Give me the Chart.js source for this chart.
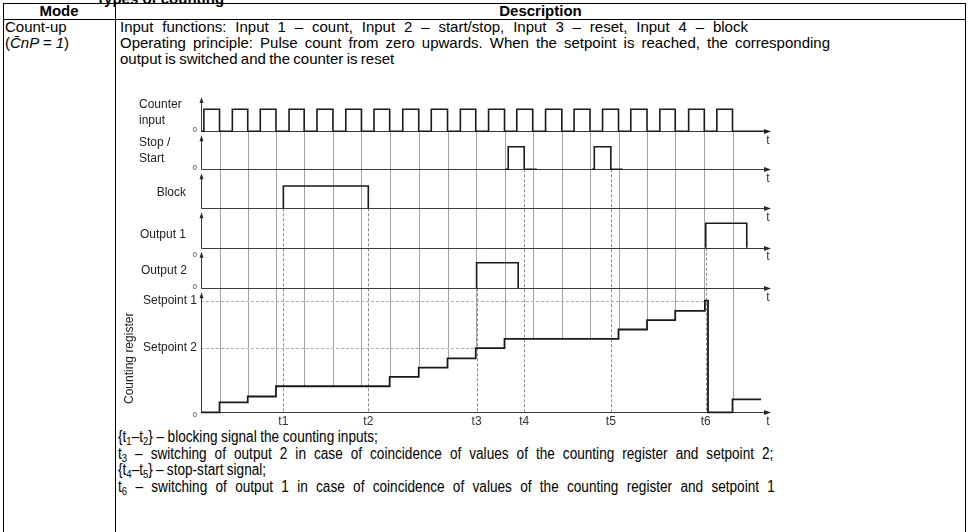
<!DOCTYPE html>
<html><head><meta charset="utf-8">
<script src="https://cdn.jsdelivr.net/npm/chart.js@4/dist/chart.umd.min.js"></script>
<style>
html,body{margin:0;padding:0;background:#fff;}
#page{position:relative;width:969px;height:532px;overflow:hidden;font-family:'Liberation Sans',Arial,sans-serif;color:#000;}
.ln{position:absolute;background:#000;}
.tx{position:absolute;white-space:nowrap;font-size:15px;line-height:16px;}
.b{font-weight:bold;}
.nar{font-size:16px;transform-origin:0 50%;transform:scaleX(0.85);}
sub{font-size:70%;vertical-align:-3px;line-height:0;}
#chartBox{position:absolute;left:120px;top:85px;width:680px;height:350px;}
</style></head>
<body><div id="page">
<div class="tx b" style="left:96px;top:-9px">Types of counting</div>
<div class="ln" style="left:3px;top:3px;width:963px;height:1px"></div>
<div class="ln" style="left:3px;top:19px;width:963px;height:1px"></div>
<div class="ln" style="left:3px;top:3px;width:1px;height:529px"></div>
<div class="ln" style="left:115px;top:3px;width:1px;height:529px"></div>
<div class="ln" style="left:965px;top:3px;width:1px;height:529px"></div>
<div class="tx b" style="left:3px;width:112px;text-align:center;top:3px">Mode</div>
<div class="tx b" style="left:116px;width:849px;text-align:center;top:3px">Description</div>
<div class="tx" style="left:5px;top:19px">Count-up</div>
<div class="tx" style="left:5px;top:35px">(<i>C̄nP = 1</i>)</div>
<div class="tx fit" data-end="748" style="left:120px;top:19px">Input functions: Input 1 – count, Input 2 – start/stop, Input 3 – reset, Input 4 – block</div>
<div class="tx fit" data-end="830" style="left:120px;top:35px">Operating principle: Pulse count from zero upwards. When the setpoint is reached, the corresponding</div>
<div class="tx fit" data-end="394" style="left:120px;top:51px">output is switched and the counter is reset</div>
<div class="tx nar fit" data-end="378" data-scale="0.85" style="left:118px;top:429px">{t<sub>1</sub>–t<sub>2</sub>} – blocking signal the counting inputs;</div>
<div class="tx nar fit" data-end="773" data-scale="0.85" style="left:118px;top:446px">t<sub>3</sub> – switching of output 2 in case of coincidence of values of the counting register and setpoint 2;</div>
<div class="tx nar fit" data-end="266" data-scale="0.85" style="left:118px;top:462px">{t<sub>4</sub>–t<sub>5</sub>} – stop-start signal;</div>
<div class="tx nar fit" data-end="775" data-scale="0.85" style="left:118px;top:479px">t<sub>6</sub> – switching of output 1 in case of coincidence of values of the counting register and setpoint 1</div>
<div id="chartBox"><canvas id="c" width="680" height="350"></canvas></div>
</div>
<script>
// fit the text lines to the line ends seen in the reference (layout only)
document.querySelectorAll('.fit').forEach(el => {
  const s = parseFloat(el.dataset.scale || '1');
  const left = parseFloat(el.style.left);
  const need = (parseFloat(el.dataset.end) - left) / s;
  const spaces = el.textContent.split(' ').length - 1;
  const ws = (need - el.offsetWidth) / spaces;
  el.style.wordSpacing = ws.toFixed(2) + 'px';
});

// ---- data ----
const T_MAX = 20;
const LANE_NAMES = ['Counter input', 'Stop / Start', 'Block', 'Output 1', 'Output 2', 'Counting register'];
const COUNTER_RISE = [0.10, 1.10, 2.08, 3.09, 4.07, 5.08, 6.07, 7.08, 8.08, 9.10, 10.09, 11.08, 12.09, 13.09, 14.09, 15.08, 16.10, 17.11, 18.10];
const COUNTER_FALL = [0.65, 1.64, 2.63, 3.62, 4.63, 5.63, 6.62, 7.64, 8.65, 9.64, 10.65, 11.64, 12.66, 13.65, 14.65, 15.65, 16.64, 17.66, 18.65];
const STOP_T = [10.67, 10.78, 11.34, 11.78, 12.50, 13.71, 13.80, 14.38, 14.79];
const STOP_V = [0, 1, 0, 0, null, 0, 1, 0, 0];
const BLOCK_ON = [2.89], BLOCK_OFF = [5.87];
const OUT1_ON = [17.71], OUT1_OFF = [19.15];
const OUT2_ON = [9.67], OUT2_OFF = [11.13];
const REG_T = [0, 0.65, 1.64, 2.63, 6.62, 7.64, 8.65, 9.64, 10.65, 14.65, 15.65, 16.64, 17.68, 17.79, 18.65, 19.65];
const REG_V = [0, 1.07, 1.7, 2.8, 3.8, 4.8, 5.8, 6.9, 7.9, 8.9, 9.9, 10.9, 12, 0, 1.4, 1.4];
const SETPOINT_LABELS = ['Setpoint 1', 'Setpoint 2'];
const SETPOINT_VALUES = [12, 6.9];
const SETPOINT_UNTIL = ['t6', 't3'];
const EVENT_LABELS = ['t1', 't2', 't3', 't4', 't5', 't6'];
const EVENT_TIMES = [2.89, 5.87, 9.67, 11.34, 14.38, 17.71];
const EVENT_FROM = ['Block', 'Block', 'Output 2', 'Stop / Start', 'Stop / Start', 'Output 1'];
const AXIS_END_LABEL = 't';

// ---- layout / style ----
const laneIds = ['yCnt', 'yStop', 'yBlock', 'yOut1', 'yOut2', 'yReg'];
const laneMax = [1.74, 1.68, 1.75, 1.61, 1.59, 13.33];
const laneWeight = [38.3, 38, 39, 39.4, 40.6, 124];
const TRACE = '#1a1a1a';

function pulses(on, off) {
  const pts = [{x: 0, y: 0}];
  on.forEach((t, i) => { pts.push({x: t, y: 1}); pts.push({x: off[i], y: 0}); });
  return pts;
}
function edges(on, off) {
  const pts = [];
  on.forEach((t, i) => { pts.push({x: t, y: 0}); pts.push({x: t, y: 1}); pts.push({x: off[i], y: 0}); });
  return pts;
}
const counterPts = pulses(COUNTER_RISE, COUNTER_FALL);
counterPts.push({x: 19.9, y: 0});
const stopPts = STOP_T.map((t, i) => ({x: t, y: STOP_V[i]}));
const regPts = REG_T.map((t, i) => ({x: t, y: REG_V[i]}));
function regAt(t) {
  let v = REG_V[0];
  REG_T.forEach((x, i) => { if (x <= t + 1e-6) v = REG_V[i]; });
  return v;
}

const ds = (data, axis, w) => ({data, yAxisID: axis, xAxisID: 'x', stepped: true, borderColor: TRACE,
  borderWidth: w || 1.6, pointRadius: 0, fill: false, clip: false, spanGaps: false, tension: 0});

const scales = {x: {type: 'linear', min: 0, max: T_MAX, display: false}};
laneIds.forEach((id, i) => {
  scales[id] = {type: 'linear', position: 'right', stack: 'lanes', stackWeight: laneWeight[i],
    min: 0, max: laneMax[i], display: false};
});

function arrowRight(c, x, y) { c.beginPath(); c.moveTo(x, y); c.lineTo(x - 7, y - 2.5); c.lineTo(x - 7, y + 2.5); c.closePath(); c.fill(); }
function arrowUp(c, x, y) { c.beginPath(); c.moveTo(x, y); c.lineTo(x - 2, y + 6); c.lineTo(x + 2, y + 6); c.closePath(); c.fill(); }

const diagram = {
  id: 'diagram',
  beforeDatasetsDraw(chart) {
    const c = chart.ctx, xs = chart.scales.x;
    const X = t => xs.getPixelForValue(t);
    const Y = (i, v) => chart.scales[laneIds[i]].getPixelForValue(v);
    const snap = v => Math.round(v) + 0.5;
    c.save();
    c.strokeStyle = '#a3a3a3'; c.lineWidth = 1;
    COUNTER_FALL.forEach(t => {
      const x = snap(X(t));
      c.beginPath(); c.moveTo(x, Y(0, 0)); c.lineTo(x, Y(5, regAt(t))); c.stroke();
    });
    c.setLineDash([3, 2]); c.strokeStyle = '#8c8c8c';
    EVENT_TIMES.forEach((t, i) => {
      const lane = LANE_NAMES.indexOf(EVENT_FROM[i]);
      const x = snap(X(t));
      c.beginPath(); c.moveTo(x, Y(lane, 0)); c.lineTo(x, Y(5, 0)); c.stroke();
    });
    c.strokeStyle = '#b0b0b0';
    SETPOINT_VALUES.forEach((v, i) => {
      const y = snap(Y(5, v));
      const tEnd = EVENT_TIMES[EVENT_LABELS.indexOf(SETPOINT_UNTIL[i])];
      c.beginPath(); c.moveTo(X(0), y); c.lineTo(X(tEnd), y); c.stroke();
    });
    c.setLineDash([]);
    c.strokeStyle = '#3a3a3a'; c.fillStyle = '#2a2a2a'; c.lineWidth = 1;
    laneIds.forEach((id, i) => {
      const s = chart.scales[id];
      const y0 = snap(s.getPixelForValue(0));
      const x0 = snap(X(0));
      const xe = X(T_MAX);
      c.beginPath(); c.moveTo(x0, y0); c.lineTo(xe - 4, y0); c.stroke();
      arrowRight(c, xe, y0);
      const top = s.top + 4;
      c.beginPath(); c.moveTo(x0, y0); c.lineTo(x0, top + 4); c.stroke();
      arrowUp(c, x0, top);
    });
    c.restore();
  },
  afterDatasetsDraw(chart) {
    const c = chart.ctx, xs = chart.scales.x;
    const X = t => xs.getPixelForValue(t);
    const Y = (i, v) => chart.scales[laneIds[i]].getPixelForValue(v);
    const ax = X(0);
    c.save();
    c.fillStyle = '#222';
    c.font = "12px 'Liberation Sans', Arial, sans-serif";
    c.textBaseline = 'middle';
    c.textAlign = 'left';
    c.fillText('Counter', ax - 62, Y(0, 0) - 27);
    c.fillText('input', ax - 62, Y(0, 0) - 11);
    c.fillText('Stop /', ax - 62, Y(1, 0) - 27);
    c.fillText('Start', ax - 62, Y(1, 0) - 11);
    c.textAlign = 'right';
    c.fillText(LANE_NAMES[2], ax - 15, Y(2, 0) - 16);
    c.textAlign = 'left';
    c.fillText(LANE_NAMES[3], ax - 61, Y(3, 0) - 13);
    c.fillText(LANE_NAMES[4], ax - 60, Y(4, 0) - 18);
    c.textAlign = 'right';
    SETPOINT_LABELS.forEach((l, i) => c.fillText(l, ax - 4, Y(5, SETPOINT_VALUES[i])));
    c.save();
    c.translate(ax - 71, chart.scales.yReg.top + 70);
    c.rotate(-Math.PI / 2);
    c.textAlign = 'center';
    c.fillText(LANE_NAMES[5], 0, 0);
    c.restore();
    c.fillStyle = '#444';
    c.font = "8px 'Liberation Sans', Arial, sans-serif";
    c.textAlign = 'right';
    const zeroOff = [-2, -2, null, 7, -2, 2];
    zeroOff.forEach((o, i) => { if (o !== null) c.fillText('0', ax - 4, Y(i, 0) + o); });
    c.fillStyle = '#333';
    c.font = "12px 'Liberation Sans', Arial, sans-serif";
    c.textAlign = 'center';
    laneIds.forEach((id, i) => c.fillText(AXIS_END_LABEL, X(T_MAX) - 3, Y(i, 0) + 9));
    EVENT_LABELS.forEach((l, i) => c.fillText(l, X(EVENT_TIMES[i]), Y(5, 0) + 9.5));
    c.restore();
  }
};

new Chart(document.getElementById('c'), {
  type: 'line',
  data: {datasets: [
    ds(counterPts, 'yCnt'),
    ds(stopPts, 'yStop'),
    ds(edges(BLOCK_ON, BLOCK_OFF), 'yBlock'),
    ds(edges(OUT1_ON, OUT1_OFF), 'yOut1'),
    ds(edges(OUT2_ON, OUT2_OFF), 'yOut2'),
    ds(regPts, 'yReg', 1.8)
  ]},
  options: {
    responsive: false, animation: false, devicePixelRatio: 1,
    layout: {padding: {left: 81, right: 29, top: 8, bottom: 22.7}},
    plugins: {legend: {display: false}, tooltip: {enabled: false}},
    events: [],
    scales
  },
  plugins: [diagram]
});
</script>
</body></html>
